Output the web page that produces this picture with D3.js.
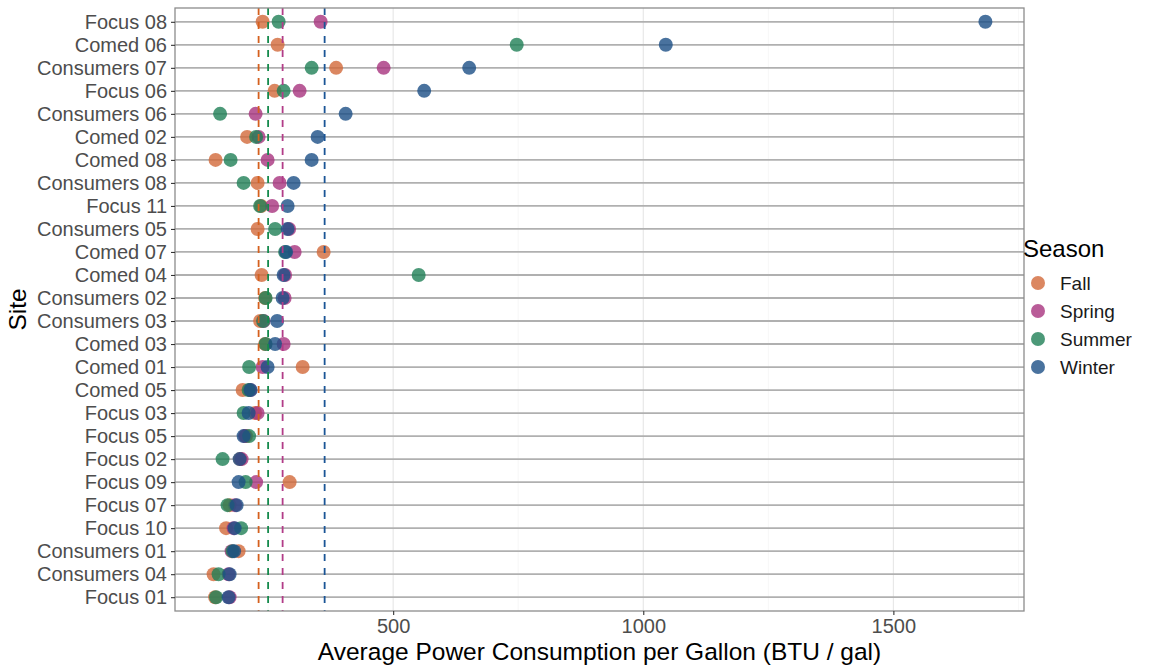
<!DOCTYPE html>
<html>
<head>
<meta charset="utf-8">
<script src="https://cdn.jsdelivr.net/npm/d3@7"></script>
<style>
  body { margin: 0; background: #fff; }
  svg { font-family: "Liberation Sans", Arial, sans-serif; }
</style>
</head>
<body>
<svg id="chart"></svg>
<script>
// Sites, top to bottom
const sites = ["Focus 08", "Comed 06", "Consumers 07", "Focus 06", "Consumers 06", "Comed 02",
  "Comed 08", "Consumers 08", "Focus 11", "Consumers 05", "Comed 07", "Comed 04", "Consumers 02",
  "Consumers 03", "Comed 03", "Comed 01", "Comed 05", "Focus 03", "Focus 05", "Focus 02",
  "Focus 09", "Focus 07", "Focus 10", "Consumers 01", "Consumers 04", "Focus 01"];

const seasons = ["Fall", "Spring", "Summer", "Winter"];

// BTU / gal per site (same order as sites), null = no reading
const fallValues = [239, 269, 386, 263, null, 208, 145, 229, 236, 229, 361, 237, 244,
  234, 244, 319, 199, 224, 206, 194, 293, 173, 166, 191, 141, 144];
const springValues = [355, null, 481, 313, 225, 231, 249, 273, 258, 292, 303, 284, 283,
  241, 281, 239, 214, 229, 204, 197, 226, 184, 181, 177, 171, 173];
const summerValues = [271, 747, 337, 281, 154, 226, 175, 201, 234, 264, 284, 551, 245,
  240, 245, 212, 211, 201, 212, 159, 205, 169, 196, 179, 151, 146];
const winterValues = [1684, 1045, 652, 562, 405, 349, 337, 301, 289, 289, 286, 281, 279,
  268, 264, 249, 215, 211, 201, 193, 191, 187, 183, 182, 173, 171];

// dashed reference lines (season averages)
const seasonMeans = [231, 279, 250, 363];

const seasonColors = ["#d2693a", "#a8337e", "#1f7f56", "#1b4f86"];
const lineColors = ["#d5601e", "#b23c88", "#158a4c", "#1a5596"];

const seriesValues = [fallValues, springValues, summerValues, winterValues];

const W = 1168, H = 668;
const margin = { top: 8, right: 144, bottom: 57, left: 175 };
const innerW = W - margin.left - margin.right;
const innerH = H - margin.top - margin.bottom;

const svg = d3.select("#chart").attr("width", W).attr("height", H);
const g = svg.append("g").attr("transform", `translate(${margin.left},${margin.top})`);

// build long table
const points = [];
seasons.forEach((s, i) => {
  sites.forEach((site, j) => {
    const v = seriesValues[i][j];
    if (v != null) points.push({ site: site, season: s, value: v });
  });
});

const lo = d3.min(points, d => d.value), hi = d3.max(points, d => d.value);
const pad = (hi - lo) * 0.05;
const x = d3.scaleLinear().domain([lo - pad, hi + pad]).range([0, innerW]);
const y = d3.scalePoint().domain(sites).range([0, innerH]).padding(0.6);
const color = d3.scaleOrdinal().domain(seasons).range(seasonColors);

// minor vertical grid
const minorTicks = [250, 750, 1250, 1750];
g.selectAll(".minor").data(minorTicks).enter().append("line")
  .attr("x1", d => x(d)).attr("x2", d => x(d))
  .attr("y1", 0).attr("y2", innerH)
  .attr("stroke", "#f2f2f2").attr("stroke-width", 0.6);

// major vertical grid
const majorTicks = [500, 1000, 1500];
g.selectAll(".major").data(majorTicks).enter().append("line")
  .attr("x1", d => x(d)).attr("x2", d => x(d))
  .attr("y1", 0).attr("y2", innerH)
  .attr("stroke", "#e6e6e6").attr("stroke-width", 1.1);

// horizontal site lines
g.selectAll(".hline").data(sites).enter().append("line")
  .attr("x1", 0).attr("x2", innerW)
  .attr("y1", d => y(d)).attr("y2", d => y(d))
  .attr("stroke", "#b0b0b0").attr("stroke-width", 1.8);

// points, winter drawn last
g.selectAll("circle").data(points).enter().append("circle")
  .attr("cx", d => x(d.value))
  .attr("cy", d => y(d.site))
  .attr("r", 7)
  .attr("fill", d => color(d.season))
  .attr("fill-opacity", 0.8);

// dashed season averages
g.selectAll(".vline").data(seasonMeans).enter().append("line")
  .attr("x1", d => x(d)).attr("x2", d => x(d))
  .attr("y1", 0).attr("y2", innerH)
  .attr("stroke", (d, i) => lineColors[i])
  .attr("stroke-width", 1.8)
  .attr("stroke-dasharray", "7,7");

// panel border
g.append("rect").attr("width", innerW).attr("height", innerH)
  .attr("fill", "none").attr("stroke", "#8c8c8c").attr("stroke-width", 1.3);

// axes
const xAxis = g.append("g").attr("transform", `translate(0,${innerH})`)
  .call(d3.axisBottom(x).tickValues(majorTicks).tickFormat(d3.format("d")).tickSize(4).tickPadding(4));
const yAxis = g.append("g").call(d3.axisLeft(y).tickSize(4).tickPadding(4));
[xAxis, yAxis].forEach(a => {
  a.select(".domain").remove();
  a.selectAll(".tick line").attr("stroke", "#333").attr("stroke-width", 1.1);
  a.selectAll("text").attr("fill", "#4d4d4d").style("font-size", "20px")
    .style("font-family", "'Liberation Sans', Arial, sans-serif");
});

// axis titles
svg.append("text")
  .attr("x", margin.left + innerW / 2).attr("y", 660)
  .attr("text-anchor", "middle").style("font-size", "24.5px")
  .text("Average Power Consumption per Gallon (BTU / gal)");

svg.append("text")
  .attr("transform", `translate(26,${margin.top + innerH / 2}) rotate(-90)`)
  .attr("text-anchor", "middle").style("font-size", "24.5px")
  .text("Site");

// legend
const legend = svg.append("g").attr("transform", "translate(1023,0)");
legend.append("text").attr("x", 0).attr("y", 257).style("font-size", "24px").text("Season");
seasons.forEach((s, i) => {
  const row = legend.append("g").attr("transform", `translate(0,${283 + i * 28})`);
  row.append("circle").attr("cx", 15).attr("cy", 0).attr("r", 7)
    .attr("fill", seasonColors[i]).attr("fill-opacity", 0.8);
  row.append("text").attr("x", 37).attr("y", 7).style("font-size", "19px")
    .attr("fill", "#1a1a1a").text(s);
});
</script>
</body>
</html>
